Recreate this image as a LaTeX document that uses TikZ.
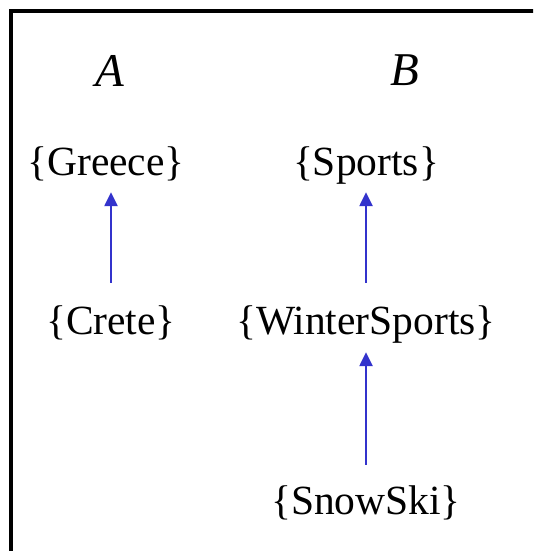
\documentclass[tikz,border=0pt]{standalone}
\usepackage{fontspec}
\setmainfont{Liberation Serif}
\usetikzlibrary{arrows.meta}

\definecolor{linkblue}{RGB}{51,51,204}

\begin{document}
\begin{tikzpicture}[x=1pt,y=-1pt,
    set/.style={inner sep=0pt,text height=28pt,text depth=8pt,font=\fontsize{41.5}{48}\selectfont},
    head/.style={font=\fontsize{47}{54}\selectfont\itshape},
    isa/.style={-{Triangle[length=14pt,width=13pt]},line width=2.4pt,linkblue}]
      \useasboundingbox (0,0) rectangle (533,551);
      \clip (0,0) rectangle (533,551);
      \draw[line width=3.5pt] (11,11) rectangle (560,580);
      % the two hierarchies
      \node[head] (headA) at (110,71) {A};
      \node[head] (headB) at (405,70) {B};
      \node[set] (greece) at (106,165) {\{Greece\}};
      \node[set] (crete) at (111,324) {\{Crete\}};
      \node[set] (sports) at (366,165) {\{Sports\}};
      \node[set] (winter) at (366,324) {\{WinterSports\}};
      \node[set] (snowski) at (366,504) {\{SnowSki\}};
      % subset links
      \draw[isa,shorten <=23pt,shorten >=9pt] (crete.north) -- (crete.north |- greece.south);
      \draw[isa,shorten <=23pt,shorten >=9pt] (winter.north) -- (sports.south);
      \draw[isa,shorten <=21pt,shorten >=10pt] (snowski.north) -- (winter.south);
    \end{tikzpicture}
\end{document}
